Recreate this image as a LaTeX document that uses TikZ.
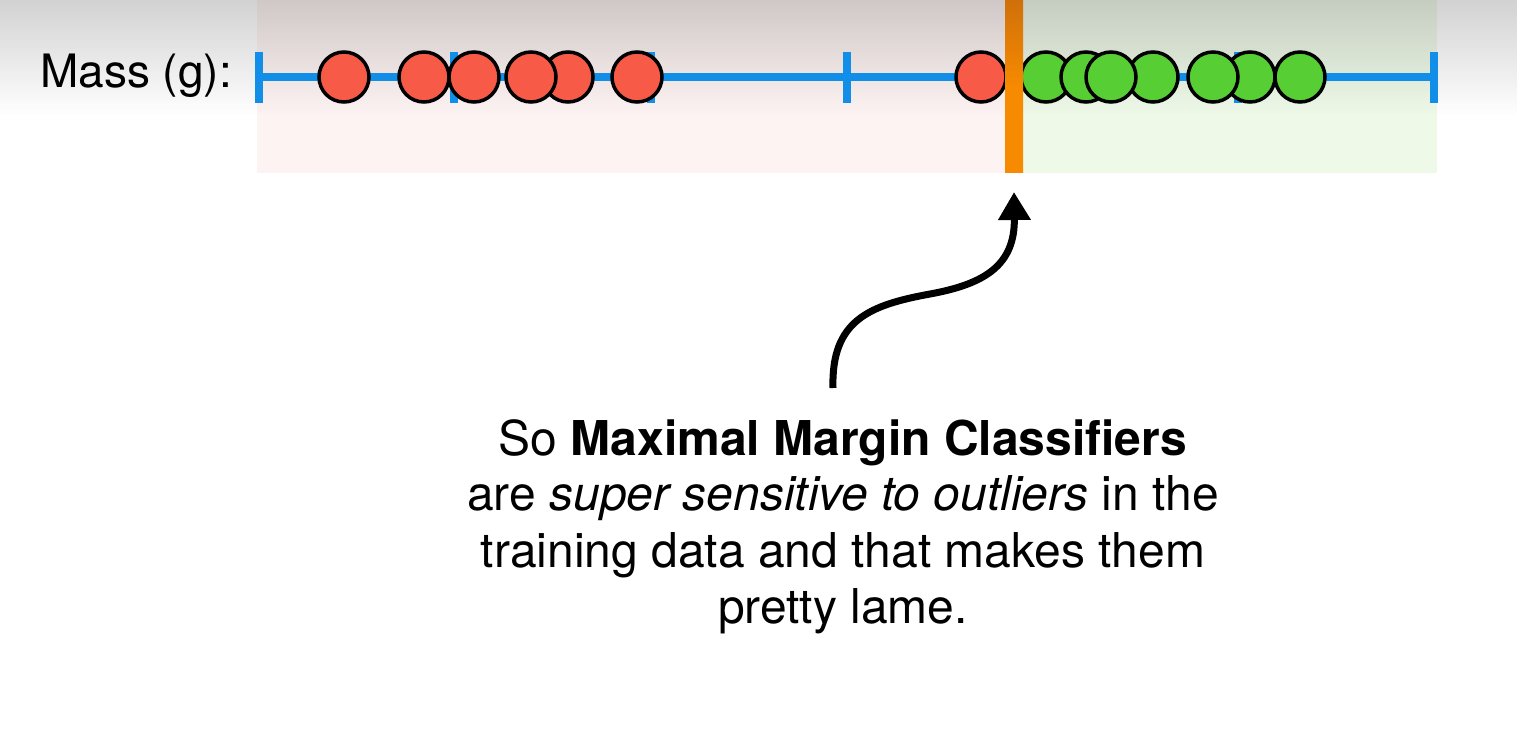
\documentclass[tikz,border=0pt]{standalone}
\usepackage{fontspec}
\setmainfont{TeX Gyre Heros}
\usetikzlibrary{fadings,arrows.meta}
\definecolor{axisblue}{RGB}{16,142,232}
\definecolor{ptred}{RGB}{248,90,72}
\definecolor{ptgreen}{RGB}{86,206,52}
\definecolor{bgpink}{RGB}{253,243,242}
\definecolor{bggreen}{RGB}{238,249,232}
\definecolor{barorange}{RGB}{246,138,0}
\definecolor{bartop}{RGB}{208,112,10}
\tikzset{
  redpt/.style={circle, draw=black, line width=3.5pt, fill=ptred, minimum size=50pt, inner sep=0pt},
  greenpt/.style={circle, draw=black, line width=3.5pt, fill=ptgreen, minimum size=50pt, inner sep=0pt},
  tickmark/.style={draw=axisblue, line width=7.5pt},
  txt/.style={font=\fontsize{48}{56}\selectfont, inner sep=0pt, anchor=base},
  lbl/.style={font=\fontsize{46}{56}\selectfont, inner sep=0pt},
}
\begin{document}
\begin{tikzpicture}[x=1pt,y=-1pt]
\useasboundingbox (0,0) rectangle (1521,738);
\fill[white] (0,0) rectangle (1521,738);
% class regions
\fill[bgpink] (257,0) rectangle (1005,173);
\fill[bggreen] (1022,0) rectangle (1437,173);
% top shadow
\fill[black!80, fill opacity=0.22, path fading=south] (0,0) rectangle (1521,115);
% axis
\coordinate (axL) at (259,77);
\coordinate (axR) at (1434,77);
\draw[tickmark] (axL) -- (axR);
\foreach \x [count=\i] in {259,454,651,847,1043,1238,1434}{
  \draw[tickmark] (\x,52) -- (\x,103);
}
% red points
\foreach \x/\n in {344/r1,424/r2,474/r3,568/r5,531/r4,637/r6,981/r7}{
  \node[redpt] (\n) at (\x,77) {};
}
% green points
\foreach \x/\n in {1046/g1,1086/g2,1153/g4,1111/g3,1250/g6,1213/g5,1300/g7}{
  \node[greenpt] (\n) at (\x,77) {};
}
% orange separator
\shade[top color=bartop, bottom color=barorange, middle color=barorange] (1005,0) rectangle (1023,173);
\coordinate (bar) at (1014,173);
% label
\node[lbl, anchor=base east] (mass) at (232,88) {Mass (g):};
% text
\node[txt] (l1) at (843,455) {So \textbf{Maximal Margin Classifiers}};
\node[txt] (l2) at (843,510) {are \textit{super sensitive to outliers} in the};
\node[txt] (l3) at (843,567) {training data and that makes them};
\node[txt] (l4) at (843,623) {pretty lame.};
% arrow
\coordinate (start) at (833,388);
\coordinate (tip) at (1014,192);
\draw[line width=7pt, -{Triangle[width=31pt,length=28pt]}] (start) .. controls (831,320) and (870,305) .. (930,294) .. controls (985,284) and (1015,265) .. (tip);
\end{tikzpicture}
\end{document}
